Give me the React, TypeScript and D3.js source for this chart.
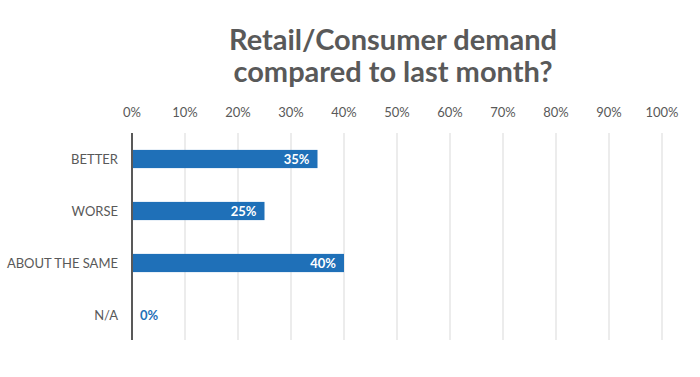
import React from "react";
import * as d3 from "d3";

const categories = ["BETTER", "WORSE", "ABOUT THE SAME", "N/A"];
const values = [35, 25, 40, 0];
const ticks = [0, 10, 20, 30, 40, 50, 60, 70, 80, 90, 100];
const titleLines = ["Retail/Consumer demand", "compared to last month?"];

export default function App() {
  const W = 700, H = 377;
  const x = d3.scaleLinear().domain([0, 100]).range([132, 662]);
  const y = d3.scaleBand().domain(categories).range([133, 341]).paddingInner(0.65).paddingOuter(0.325);
  const font = "Lato, 'Open Sans', sans-serif";
  const grey = "#595959";
  const blue = "#1F70B8";
  return (
    <svg width={W} height={H} style={{ position: "absolute", left: 0, top: 0, background: "#fff" }}>
      {titleLines.map((t, i) => (
        <text key={t} x={393} y={50 + i * 32} textAnchor="middle" fontFamily={font} fontWeight={700} fontSize={29} fill={grey}>{t}</text>
      ))}
      {ticks.map(t => (
        <g key={t}>
          <text x={x(t)} y={117} textAnchor="middle" fontFamily={font} fontSize={13} fill={grey}>{t}%</text>
          {t > 0 && <line x1={x(t)} x2={x(t)} y1={133} y2={340} stroke="#d9d9d9" strokeWidth={1} />}
        </g>
      ))}
      {categories.map((c, i) => (
        <g key={c}>
          <text x={118} y={(y(c) as number) + y.bandwidth() / 2} dy="0.35em" textAnchor="end" fontFamily={font} fontSize={13} fill={grey}>{c}</text>
          {values[i] > 0 && <rect x={x(0)} y={y(c)} width={x(values[i]) - x(0)} height={y.bandwidth()} fill={blue} />}
          <text
            x={values[i] > 0 ? x(values[i]) - 8 : x(0) + 8}
            y={(y(c) as number) + y.bandwidth() / 2}
            dy="0.35em"
            textAnchor={values[i] > 0 ? "end" : "start"}
            fontFamily={font} fontWeight={700} fontSize={13}
            fill={values[i] > 0 ? "#fff" : blue}
          >{values[i]}%</text>
        </g>
      ))}
      <line x1={x(0)} x2={x(0)} y1={133} y2={340} stroke={grey} strokeWidth={2} />
    </svg>
  );
}
